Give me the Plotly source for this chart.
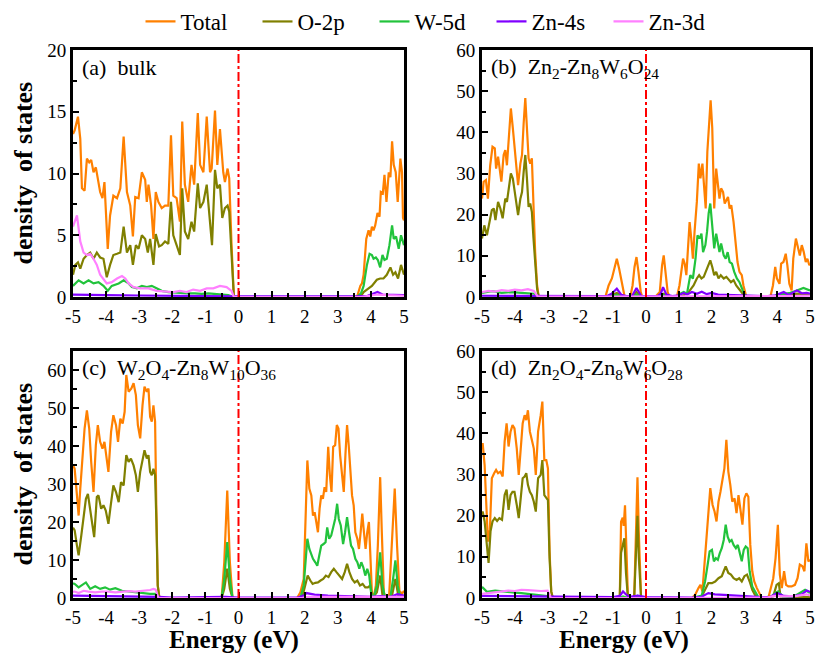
import plotly.graph_objects as go
from plotly.subplots import make_subplots

# ---------------- data: (energy eV, DOS) points ----------------
SERIES = ["Total", "O-2p", "W-5d", "Zn-4s", "Zn-3d"]
COLORS = ["#FF8000", "#808000", "#22C33C", "#8000FF", "#FF80FF"]

X_TICKS = [-5, -4, -3, -2, -1, 0, 1, 2, 3, 4, 5]
X_LABELS = ["-5", "-4", "-3", "-2", "-1", "0", "1", "2", "3", "4", "5"]

PANEL_LABELS = [
    "(a)\u00a0 bulk",
    "(b)\u00a0 Zn<sub>2</sub>-Zn<sub>8</sub>W<sub>6</sub>O<sub>24</sub>",
    "(c)\u00a0 W<sub>2</sub>O<sub>4</sub>-Zn<sub>8</sub>W<sub>10</sub>O<sub>36</sub>",
    "(d)\u00a0 Zn<sub>2</sub>O<sub>4</sub>-Zn<sub>8</sub>W<sub>6</sub>O<sub>28</sub>",
]
Y_MAX = [20, 60, 65, 60]
Y_DTICK = [5, 10, 10, 10]

# ---- panel (a) bulk ----
a_total = [(-5.0,13.2),(-4.95,13.5),(-4.85,14.6),(-4.78,12.8),(-4.73,8.8),(-4.65,8.6),(-4.58,11.2),(-4.51,10.9),(-4.45,11.1),(-4.38,10.1),(-4.31,10.5),(-4.25,9.7),(-4.18,8.5),(-4.11,8.0),(-4.05,9.3),(-3.95,3.9),(-3.88,6.6),(-3.78,8.2),(-3.67,8.0),(-3.57,8.8),(-3.47,13.0),(-3.37,8.5),(-3.27,7.4),(-3.19,4.9),(-3.12,8.1),(-3.02,8.0),(-2.92,10.1),(-2.82,9.5),(-2.77,7.7),(-2.72,9.1),(-2.64,7.4),(-2.57,4.7),(-2.50,8.5),(-2.42,7.7),(-2.32,7.2),(-2.22,7.4),(-2.12,7.4),(-2.04,13.1),(-1.97,8.2),(-1.87,8.0),(-1.77,6.1),(-1.70,14.2),(-1.62,9.1),(-1.52,7.7),(-1.42,10.7),(-1.34,9.1),(-1.23,14.9),(-1.16,10.7),(-1.06,10.1),(-0.96,14.6),(-0.86,10.1),(-0.81,10.4),(-0.71,15.1),(-0.64,10.7),(-0.56,13.6),(-0.46,10.1),(-0.41,9.3),(-0.33,10.4),(-0.28,9.6),(-0.21,4.2),(-0.14,0.0),
           (3.48,0.0),(3.58,0.0),(3.68,0.9),(3.73,1.1),(3.78,1.8),(3.86,4.7),(3.93,5.4),(3.98,4.9),(4.03,5.7),(4.08,5.4),(4.13,5.8),(4.20,6.8),(4.26,6.5),(4.30,8.5),(4.36,8.4),(4.41,9.9),(4.47,7.7),(4.54,10.1),(4.59,9.7),(4.64,12.6),(4.69,10.7),(4.75,10.1),(4.81,7.7),(4.89,11.2),(4.94,10.1),(4.97,6.4),(5.0,6.2)]
a_o2p = [(-5.0,1.8),(-4.93,2.6),(-4.85,2.8),(-4.78,2.3),(-4.68,3.1),(-4.58,3.4),(-4.48,3.6),(-4.38,3.1),(-4.28,3.6),(-4.18,3.2),(-4.08,3.1),(-3.98,1.6),(-3.88,2.6),(-3.78,3.4),(-3.67,3.5),(-3.57,3.6),(-3.47,5.7),(-3.37,3.6),(-3.27,4.2),(-3.19,2.6),(-3.10,4.2),(-3.02,3.9),(-2.92,5.0),(-2.82,4.7),(-2.74,3.6),(-2.67,4.7),(-2.57,2.6),(-2.50,5.1),(-2.40,4.1),(-2.32,4.2),(-2.22,4.5),(-2.12,4.3),(-2.04,7.7),(-1.97,5.0),(-1.87,4.2),(-1.77,3.4),(-1.70,8.8),(-1.62,5.3),(-1.52,4.7),(-1.42,6.1),(-1.34,5.3),(-1.23,9.2),(-1.16,7.2),(-1.06,7.7),(-0.96,9.1),(-0.86,6.4),(-0.80,4.2),(-0.71,10.3),(-0.64,8.8),(-0.56,9.1),(-0.49,6.4),(-0.41,7.2),(-0.33,7.4),(-0.28,6.9),(-0.21,3.6),(-0.14,0.0),
         (3.68,0.0),(3.78,0.4),(3.93,0.7),(4.03,0.9),(4.18,1.4),(4.28,1.5),(4.38,1.5),(4.48,1.8),(4.59,2.4),(4.67,1.8),(4.74,2.0),(4.82,1.5),(4.91,2.6),(5.0,1.8)]
a_w5d = [(-5.0,0.9),(-4.83,1.35),(-4.68,1.1),(-4.53,1.35),(-4.38,1.1),(-4.23,1.2),(-4.08,0.9),(-3.95,0.5),(-3.83,0.9),(-3.62,1.1),(-3.47,1.35),(-3.32,1.1),(-3.22,0.8),(-3.07,0.7),(-2.92,0.9),(-2.77,0.8),(-2.62,0.9),(-2.47,0.7),(-2.32,0.5),(-2.12,0.4),(-1.92,0.35),(-1.71,0.3),(-1.52,0.3),(-1.32,0.3),(-1.11,0.25),(-0.91,0.3),(-0.61,0.2),(-0.31,0.15),(-0.14,0.0),
         (3.58,0.0),(3.70,0.3),(3.78,0.9),(3.88,2.6),(3.96,3.5),(4.03,3.4),(4.08,3.1),(4.15,3.2),(4.21,3.0),(4.28,2.4),(4.35,3.4),(4.41,3.0),(4.48,3.1),(4.56,4.2),(4.64,5.8),(4.69,4.7),(4.76,4.9),(4.84,3.9),(4.91,5.0),(5.0,4.2)]
a_zn4s = [(-5.0,0.2),(-4.5,0.15),(-4.0,0.15),(-3.0,0.12),(-2.0,0.1),(-1.0,0.1),(-0.2,0.1),(0.0,0.05),(3.6,0.05),(3.9,0.1),(4.1,0.3),(4.2,0.4),(4.35,0.2),(4.7,0.2),(5.0,0.15)]
a_zn3d = [(-5.0,5.7),(-4.88,6.6),(-4.78,4.5),(-4.68,3.6),(-4.58,3.4),(-4.48,3.5),(-4.38,3.1),(-4.28,2.6),(-4.18,1.8),(-4.08,1.4),(-3.98,1.1),(-3.83,1.2),(-3.67,1.5),(-3.52,1.7),(-3.42,1.5),(-3.32,1.1),(-3.17,0.8),(-2.97,0.7),(-2.72,0.7),(-2.47,0.5),(-2.22,0.45),(-1.97,0.4),(-1.77,0.5),(-1.57,0.4),(-1.37,0.6),(-1.16,0.5),(-0.96,0.7),(-0.76,0.7),(-0.56,0.9),(-0.36,0.8),(-0.21,0.5),(-0.14,0.0),
          (3.7,0.0),(3.9,0.1),(4.2,0.2),(4.5,0.15),(5.0,0.1)]

# ---- panel (b) Zn2-Zn8W6O24 ----
b_total = [(-5.0,23.9),(-4.95,28.0),(-4.88,28.4),(-4.82,23.9),(-4.75,32.0),(-4.68,36.5),(-4.61,36.1),(-4.57,31.2),(-4.51,34.1),(-4.47,32.0),(-4.41,28.0),(-4.34,34.5),(-4.29,35.7),(-4.24,32.0),(-4.19,36.9),(-4.12,45.8),(-4.06,41.0),(-3.98,33.3),(-3.90,27.2),(-3.83,32.4),(-3.78,34.5),(-3.73,42.2),(-3.68,48.3),(-3.63,41.0),(-3.58,33.7),(-3.53,32.4),(-3.48,33.7),(-3.43,22.3),(-3.38,11.0),(-3.32,2.8),(-3.27,0.0),
           (-1.24,0.0),(-1.14,2.8),(-1.04,4.5),(-0.96,7.3),(-0.89,9.3),(-0.82,6.9),(-0.74,3.6),(-0.65,0.0),(-0.48,0.0),(-0.41,2.8),(-0.35,7.3),(-0.29,9.7),(-0.23,6.1),(-0.16,1.2),(-0.11,0.0),
           (0.28,0.0),(0.42,1.2),(0.49,7.7),(0.54,10.1),(0.60,6.1),(0.66,1.2),(0.72,0.0),(0.94,0.0),(1.02,2.8),(1.07,5.3),(1.13,9.3),(1.18,8.1),(1.23,5.3),(1.28,11.8),(1.33,18.2),(1.38,14.2),(1.43,9.3),(1.48,15.8),(1.55,23.1),(1.61,32.4),(1.66,28.8),(1.72,32.4),(1.77,25.5),(1.82,21.5),(1.87,35.3),(1.92,41.8),(1.97,47.8),(2.02,41.0),(2.08,21.5),(2.14,31.2),(2.19,27.2),(2.24,23.9),(2.29,26.4),(2.35,25.5),(2.40,22.7),(2.45,23.5),(2.50,24.3),(2.55,21.5),(2.60,22.3),(2.67,18.2),(2.73,12.6),(2.79,8.5),(2.85,6.1),(2.92,5.3),(2.97,2.8),(3.06,0.0),
           (3.79,0.0),(3.87,2.8),(3.94,7.3),(3.99,4.5),(4.07,3.2),(4.12,8.1),(4.19,8.5),(4.26,10.5),(4.31,7.7),(4.37,3.2),(4.44,1.6),(4.49,9.3),(4.57,14.2),(4.63,11.8),(4.69,10.1),(4.75,12.6),(4.81,10.9),(4.87,8.5),(4.92,9.3),(4.98,7.7),(5.0,8.0)]
b_o2p = [(-5.0,14.2),(-4.93,17.4),(-4.85,15.0),(-4.78,18.2),(-4.70,21.1),(-4.64,21.5),(-4.59,18.7),(-4.51,23.1),(-4.44,21.5),(-4.37,19.1),(-4.29,23.9),(-4.24,23.1),(-4.19,26.4),(-4.12,30.0),(-4.06,28.8),(-3.98,24.3),(-3.90,19.9),(-3.83,23.9),(-3.78,25.5),(-3.73,30.4),(-3.68,34.5),(-3.63,28.8),(-3.58,21.9),(-3.53,22.7),(-3.48,20.7),(-3.43,14.2),(-3.38,7.7),(-3.32,2.0),(-3.27,0.0),
         (-1.2,0.0),(-0.89,1.0),(-0.7,0.0),(-0.45,0.0),(-0.29,1.2),(-0.12,0.0),(0.35,0.0),(0.54,0.8),(0.7,0.0),
         (0.94,0.0),(1.15,0.4),(1.30,1.2),(1.45,2.8),(1.55,4.5),(1.62,5.3),(1.69,4.5),(1.76,4.9),(1.82,6.1),(1.89,7.7),(1.96,8.9),(2.02,7.3),(2.08,5.3),(2.14,6.1),(2.21,4.5),(2.28,5.3),(2.37,4.5),(2.45,4.9),(2.52,4.1),(2.59,3.6),(2.67,4.1),(2.75,2.8),(2.83,2.0),(2.92,1.2),(3.03,0.0),
         (3.8,0.0),(4.0,0.4),(4.3,0.6),(4.6,0.8),(5.0,0.5)]
b_w5d = [(-5.0,1.0),(-4.7,1.4),(-4.4,1.0),(-4.1,1.2),(-3.8,1.0),(-3.4,0.8),(-3.27,0.0),
         (-1.2,0.0),(-0.89,0.5),(-0.7,0.0),(-0.4,0.0),(-0.29,0.6),(-0.15,0.0),(0.35,0.0),(0.52,0.5),(0.7,0.0),
         (0.94,0.0),(1.05,0.8),(1.15,1.2),(1.25,0.8),(1.35,5.3),(1.43,4.5),(1.51,9.3),(1.57,15.0),(1.63,14.2),(1.69,15.4),(1.74,10.9),(1.81,12.6),(1.86,15.8),(1.91,20.3),(1.96,22.7),(2.02,17.4),(2.08,11.8),(2.14,15.4),(2.19,12.6),(2.24,10.9),(2.29,13.0),(2.37,10.1),(2.43,9.3),(2.49,10.9),(2.55,8.5),(2.62,8.1),(2.69,6.1),(2.77,4.5),(2.85,3.6),(2.92,2.0),(2.99,0.8),(3.08,0.0),
         (3.8,0.0),(4.1,0.6),(4.4,1.0),(4.6,1.6),(4.8,2.2),(5.0,1.6)]
b_zn4s = [(-5.0,0.3),(-4.0,0.3),(-3.3,0.2),(-1.2,0.2),(-1.05,0.8),(-0.89,2.0),(-0.75,0.5),(-0.6,0.2),(-0.42,0.3),(-0.29,2.2),(-0.15,0.3),(0.35,0.2),(0.45,0.8),(0.52,2.4),(0.62,0.6),(0.8,0.2),(1.0,0.4),(1.15,1.0),(1.25,0.6),(1.4,1.2),(1.55,0.8),(1.7,1.3),(1.85,0.7),(2.0,1.0),(2.2,0.6),(2.5,0.5),(2.8,0.5),(3.1,0.3),(3.7,0.2),(3.95,0.4),(4.2,1.2),(4.35,0.5),(4.6,1.6),(4.75,0.9),(4.9,1.0),(5.0,0.8)]
b_zn3d = [(-5.0,1.2),(-4.8,1.5),(-4.6,1.3),(-4.4,1.7),(-4.2,1.5),(-4.0,1.8),(-3.8,1.6),(-3.6,1.9),(-3.42,1.5),(-3.3,0.1),(-1.0,0.1),(0.0,0.1),(2.0,0.2),(3.0,0.1),(4.0,0.2),(5.0,0.3)]

# ---- panel (c) W2O4-Zn8W10O36 ----
c_total = [(-5.0,35.0),(-4.95,34.0),(-4.88,27.0),(-4.83,21.7),(-4.78,28.8),(-4.71,37.6),(-4.65,44.6),(-4.58,49.4),(-4.51,44.6),(-4.45,35.8),(-4.38,27.9),(-4.31,40.2),(-4.25,45.5),(-4.18,41.1),(-4.11,39.3),(-4.05,41.1),(-3.98,35.8),(-3.93,33.2),(-3.85,43.7),(-3.78,48.1),(-3.70,45.5),(-3.64,41.1),(-3.57,47.2),(-3.50,45.9),(-3.44,49.0),(-3.39,58.7),(-3.32,54.3),(-3.24,55.1),(-3.17,56.5),(-3.10,53.4),(-3.04,45.5),(-2.97,42.0),(-2.90,50.7),(-2.84,55.6),(-2.77,54.3),(-2.72,55.1),(-2.67,47.7),(-2.62,46.4),(-2.57,50.7),(-2.52,46.4),(-2.48,22.6),(-2.44,3.3),(-2.39,0.0),
           (-0.51,0.0),(-0.43,9.4),(-0.34,28.3),(-0.26,9.4),(-0.18,0.0),
           (1.77,0.0),(1.87,1.5),(1.97,5.0),(2.02,22.6),(2.08,36.2),(2.14,28.8),(2.20,27.0),(2.25,21.7),(2.30,22.6),(2.35,20.0),(2.40,17.3),(2.45,23.5),(2.50,27.0),(2.55,26.1),(2.60,29.2),(2.65,27.9),(2.71,39.8),(2.76,32.3),(2.81,27.9),(2.86,39.8),(2.92,40.2),(2.97,45.5),(3.02,44.6),(3.07,37.6),(3.13,31.4),(3.18,27.9),(3.23,37.6),(3.28,45.5),(3.33,40.2),(3.38,32.3),(3.43,27.0),(3.48,24.4),(3.53,17.3),(3.59,15.6),(3.64,12.9),(3.69,17.3),(3.74,22.2),(3.79,17.3),(3.84,12.9),(3.89,17.3),(3.94,20.0),(3.98,12.0),(4.03,1.5),(4.08,0.0),
           (4.15,3.3),(4.21,13.8),(4.28,31.8),(4.33,17.3),(4.39,1.5),(4.45,0.0),(4.55,0.5),(4.63,13.8),(4.72,28.8),(4.79,13.8),(4.86,1.9),(4.94,1.1),(5.0,1.9)]
c_o2p = [(-5.0,18.5),(-4.95,17.8),(-4.88,13.8),(-4.83,11.2),(-4.75,16.4),(-4.68,21.7),(-4.61,26.1),(-4.55,27.4),(-4.48,23.5),(-4.41,18.6),(-4.36,16.0),(-4.28,26.6),(-4.23,27.0),(-4.15,23.5),(-4.08,24.4),(-4.01,23.0),(-3.93,19.5),(-3.86,24.4),(-3.78,29.6),(-3.70,27.9),(-3.62,25.2),(-3.55,30.5),(-3.47,29.6),(-3.39,37.6),(-3.32,35.8),(-3.25,36.7),(-3.17,34.9),(-3.10,32.3),(-3.04,27.9),(-2.97,33.2),(-2.90,36.7),(-2.84,38.9),(-2.77,36.7),(-2.72,37.6),(-2.67,33.2),(-2.62,32.3),(-2.57,34.0),(-2.52,32.3),(-2.48,20.0),(-2.44,3.3),(-2.39,0.0),
         (-0.51,0.0),(-0.43,2.4),(-0.34,7.7),(-0.26,2.4),(-0.18,0.0),
         (1.92,0.0),(2.02,3.3),(2.09,5.9),(2.17,4.6),(2.24,3.7),(2.32,4.0),(2.40,4.1),(2.48,4.6),(2.56,5.0),(2.64,5.9),(2.72,5.5),(2.80,6.8),(2.88,7.7),(2.96,6.8),(3.04,5.9),(3.13,5.0),(3.21,6.8),(3.28,9.0),(3.35,6.8),(3.43,5.0),(3.51,4.1),(3.59,4.6),(3.67,3.3),(3.75,3.7),(3.83,2.8),(3.91,2.8),(3.98,3.3),(4.05,0.0),
         (4.18,1.5),(4.28,5.9),(4.36,0.0),(4.63,0.3),(4.74,5.0),(4.84,0.0),(5.0,0.6)]
c_w5d = [(-5.0,3.9),(-4.95,3.7),(-4.83,2.8),(-4.73,3.4),(-4.61,4.1),(-4.48,2.4),(-4.33,3.1),(-4.18,2.4),(-4.03,2.8),(-3.88,2.2),(-3.72,2.6),(-3.52,1.9),(-3.32,1.7),(-3.12,1.5),(-2.92,1.3),(-2.67,1.1),(-2.52,1.1),(-2.44,0.0),
         (-0.51,0.0),(-0.43,5.0),(-0.34,14.7),(-0.26,5.0),(-0.18,0.0),
         (1.87,0.0),(1.97,3.3),(2.02,10.3),(2.08,15.6),(2.14,12.9),(2.20,11.6),(2.25,10.3),(2.32,9.4),(2.38,8.5),(2.44,11.2),(2.50,13.8),(2.57,14.2),(2.63,14.7),(2.68,18.6),(2.74,15.6),(2.80,16.4),(2.86,18.6),(2.92,20.8),(2.98,24.8),(3.03,20.8),(3.09,19.1),(3.16,14.2),(3.22,17.3),(3.28,21.3),(3.34,17.3),(3.40,13.8),(3.46,12.9),(3.53,10.3),(3.59,9.4),(3.65,7.7),(3.71,9.4),(3.77,8.1),(3.83,5.9),(3.89,7.7),(3.95,5.9),(4.01,1.1),(4.08,0.0),
         (4.18,3.3),(4.28,12.0),(4.35,3.3),(4.43,0.0),(4.59,0.3),(4.67,5.0),(4.74,9.9),(4.81,3.3),(4.89,0.0),(5.0,0.6)]
c_zn4s = [(-5.0,0.6),(-4.0,0.5),(-3.0,0.5),(-2.4,0.3),(-2.0,0.1),(-0.4,0.3),(0.0,0.1),(1.8,0.1),(2.0,0.8),(2.05,1.3),(2.3,0.9),(2.7,0.6),(3.2,0.5),(3.6,0.4),(4.0,0.3),(4.3,0.5),(4.6,0.3),(4.8,1.0),(5.0,0.6)]
c_zn3d = [(-5.0,1.6),(-4.95,1.7),(-4.83,1.3),(-4.68,1.9),(-4.53,1.7),(-4.33,1.5),(-4.13,1.7),(-3.93,1.7),(-3.72,1.5),(-3.52,1.7),(-3.32,1.8),(-3.12,1.7),(-2.92,1.9),(-2.67,2.1),(-2.57,2.4),(-2.50,2.2),(-2.42,0.0),
          (1.9,0.0),(2.1,0.3),(3.0,0.3),(4.0,0.2),(5.0,0.3)]

# ---- panel (d) Zn2O4-Zn8W6O28 ----
d_total = [(-5.0,36.5),(-4.98,37.6),(-4.92,32.3),(-4.87,22.6),(-4.82,13.7),(-4.76,16.6),(-4.70,29.1),(-4.63,30.3),(-4.57,31.1),(-4.51,30.3),(-4.44,30.7),(-4.37,29.5),(-4.31,38.0),(-4.25,42.4),(-4.19,36.8),(-4.13,40.4),(-4.07,42.0),(-4.01,41.2),(-3.94,36.3),(-3.88,29.9),(-3.82,37.2),(-3.76,42.4),(-3.70,44.4),(-3.65,43.2),(-3.60,45.6),(-3.54,40.4),(-3.48,38.4),(-3.42,36.3),(-3.36,29.9),(-3.29,40.4),(-3.21,44.4),(-3.16,47.7),(-3.10,33.5),(-3.04,33.5),(-2.99,31.5),(-2.94,11.3),(-2.89,1.6),(-2.84,0.0),
           (-0.80,0.0),(-0.76,18.5),(-0.71,19.5),(-0.68,17.5),(-0.64,22.5),(-0.60,12.0),(-0.55,0.0),(-0.36,0.0),(-0.30,18.0),(-0.26,29.3),(-0.22,16.0),(-0.15,0.0),
           (1.40,0.0),(1.50,0.8),(1.60,2.4),(1.66,3.2),(1.72,1.6),(1.78,8.1),(1.84,13.7),(1.90,19.4),(1.96,26.7),(2.03,22.6),(2.09,21.0),(2.15,18.6),(2.21,23.4),(2.27,25.8),(2.33,29.1),(2.39,31.5),(2.45,38.4),(2.51,30.7),(2.57,27.5),(2.63,23.4),(2.70,24.2),(2.76,20.6),(2.82,25.0),(2.88,21.0),(2.94,17.8),(3.00,24.2),(3.06,25.4),(3.12,24.6),(3.18,12.9),(3.24,6.5),(3.30,4.0),(3.38,2.4),(3.45,1.2),(3.53,0.0),
           (3.73,0.0),(3.81,2.4),(3.88,4.8),(3.95,9.7),(4.02,17.8),(4.08,5.7),(4.14,2.4),(4.21,6.5),(4.27,3.2),(4.34,2.8),(4.44,2.8),(4.54,3.2),(4.62,4.8),(4.69,8.1),(4.77,7.7),(4.83,6.5),(4.89,13.3),(4.95,8.9),(5.0,9.3)]
d_o2p = [(-5.0,20.5),(-4.98,21.0),(-4.92,18.6),(-4.86,12.9),(-4.80,8.5),(-4.74,16.2),(-4.68,18.6),(-4.61,19.4),(-4.54,18.7),(-4.47,19.4),(-4.39,19.0),(-4.31,25.0),(-4.25,26.3),(-4.19,21.4),(-4.13,25.0),(-4.07,25.8),(-4.01,25.8),(-3.94,22.6),(-3.88,19.4),(-3.82,24.2),(-3.76,29.1),(-3.70,29.5),(-3.65,30.3),(-3.60,27.5),(-3.54,25.8),(-3.48,25.0),(-3.42,23.4),(-3.36,21.0),(-3.29,29.1),(-3.21,29.9),(-3.16,33.5),(-3.10,25.0),(-3.04,24.2),(-2.99,23.8),(-2.94,9.7),(-2.89,1.6),(-2.84,0.0),
         (-0.80,0.0),(-0.76,11.0),(-0.71,12.5),(-0.66,14.5),(-0.61,6.0),(-0.55,0.0),(-0.36,0.0),(-0.30,12.0),(-0.26,20.0),(-0.22,10.0),(-0.15,0.0),
         (1.60,0.0),(1.70,0.4),(1.80,2.0),(1.90,3.6),(2.01,3.6),(2.11,4.0),(2.21,4.8),(2.31,5.3),(2.37,6.5),(2.43,7.7),(2.51,6.1),(2.59,5.7),(2.67,4.8),(2.76,4.4),(2.84,4.8),(2.92,4.0),(3.00,5.3),(3.08,5.7),(3.16,4.0),(3.24,2.0),(3.32,0.8),(3.43,0.0),
         (3.88,0.4),(3.98,3.2),(4.05,3.6),(4.10,0.4),(5.0,0.2)]
d_w5d = [(-5.0,2.7),(-4.85,1.5),(-4.6,1.8),(-4.4,1.6),(-4.2,1.5),(-4.0,1.3),(-3.8,1.2),(-3.6,1.0),(-3.4,0.9),(-3.1,0.6),(-2.95,0.4),(-2.85,0.0),
         (-0.8,0.0),(-0.7,0.4),(-0.55,0.0),(-0.3,0.0),(-0.26,0.5),(-0.15,0.0),
         (1.40,0.0),(1.70,0.6),(1.80,4.0),(1.88,8.1),(1.94,11.3),(2.01,11.7),(2.07,8.9),(2.13,9.7),(2.19,9.3),(2.25,10.9),(2.31,12.1),(2.37,14.1),(2.43,17.8),(2.49,14.9),(2.55,13.7),(2.61,14.1),(2.67,12.9),(2.74,12.1),(2.80,12.9),(2.86,10.9),(2.92,8.9),(2.98,11.7),(3.04,12.5),(3.10,12.1),(3.16,6.5),(3.24,2.8),(3.32,1.6),(3.41,0.4),(3.48,0.0),
         (3.8,0.2),(3.93,1.2),(4.03,1.6),(4.18,0.3),(4.5,0.3),(4.85,2.0),(5.0,1.2)]
d_zn4s = [(-5.0,0.5),(-4.0,0.4),(-3.0,0.3),(-2.8,0.2),(-1.0,0.2),(-0.8,0.5),(-0.7,1.6),(-0.6,0.8),(-0.5,0.3),(-0.25,0.6),(0.0,0.2),(1.4,0.1),(1.7,0.3),(1.9,1.2),(2.1,0.9),(2.5,0.7),(3.0,0.5),(3.5,0.2),(3.8,0.3),(4.0,1.2),(4.2,0.5),(4.5,0.4),(4.75,0.9),(4.9,1.8),(5.0,1.5)]
d_zn3d = [(-5.0,1.0),(-4.8,1.2),(-4.6,1.5),(-4.4,1.6),(-4.2,1.8),(-4.0,1.7),(-3.8,2.0),(-3.6,1.9),(-3.4,1.8),(-3.2,1.7),(-3.0,1.8),(-2.9,0.0),(0.0,0.0),(3.7,0.1),(3.9,0.5),(4.2,0.4),(4.6,0.5),(4.9,0.9),(5.0,0.6)]

PANELS = [
    [a_total, a_o2p, a_w5d, a_zn4s, a_zn3d],
    [b_total, b_o2p, b_w5d, b_zn4s, b_zn3d],
    [c_total, c_o2p, c_w5d, c_zn4s, c_zn3d],
    [d_total, d_o2p, d_w5d, d_zn4s, d_zn3d],
]

# ---------------- figure ----------------
W, H = 816, 654
FONT = "Liberation Serif"

# plot-area boxes in pixels (left, right, top, bottom)
BOXES = [(73, 404, 50, 297), (482, 810, 50, 297), (73, 404, 351, 598), (482, 810, 351, 598)]

fig = make_subplots(rows=2, cols=2)
cells = [(1, 1), (1, 2), (2, 1), (2, 2)]

for p, (series_list, (r, c)) in enumerate(zip(PANELS, cells)):
    for s, pts in enumerate(series_list):
        xs, ys = zip(*pts)
        fig.add_trace(go.Scatter(
            x=list(xs), y=list(ys), mode="lines", name=SERIES[s],
            line=dict(color=COLORS[s], width=2.2),
            showlegend=(p == 0), legendgroup=SERIES[s],
        ), row=r, col=c)

axis_common = dict(
    showline=True, linewidth=3, linecolor="black", mirror=True,
    showgrid=False, zeroline=False,
    ticks="inside", ticklen=6, tickwidth=2, tickcolor="black",
    tickfont=dict(family=FONT, size=19, color="black"),
)

for p, (l, rgt, t, b) in enumerate(BOXES):
    xname = "xaxis" if p == 0 else f"xaxis{p + 1}"
    yname = "yaxis" if p == 0 else f"yaxis{p + 1}"
    fig.layout[xname].update(
        domain=[l / W, rgt / W], range=[-5, 5],
        tickmode="array", tickvals=X_TICKS, ticktext=X_LABELS,
        minor=dict(ticks="inside", dtick=0.5, tick0=-5, ticklen=4, tickwidth=2, tickcolor="black"),
        **axis_common)
    fig.layout[yname].update(
        domain=[1 - b / H, 1 - t / H], range=[0, Y_MAX[p]],
        dtick=Y_DTICK[p], tick0=0,
        minor=dict(ticks="inside", dtick=Y_DTICK[p] / 2, tick0=0, ticklen=4, tickwidth=2, tickcolor="black"),
        **axis_common)
    xref = "x" if p == 0 else f"x{p + 1}"
    yref = "y" if p == 0 else f"y{p + 1}"
    # Fermi level
    fig.add_shape(type="line", xref=xref, yref=f"{yref} domain", x0=0, x1=0, y0=0, y1=1,
                  line=dict(color="red", width=2, dash="dashdot"), layer="above")
    # panel label
    fig.add_annotation(text=PANEL_LABELS[p], xref="paper", yref="paper",
                       x=(l + 7) / W, y=1 - (t + 18) / H, xanchor="left", yanchor="middle",
                       showarrow=False, font=dict(family=FONT, size=22, color="black"))

# axis titles
for ycen in [(50 + 297) / 2, (351 + 598) / 2]:
    fig.add_annotation(text="<b>density\u00a0 of states</b>", xref="paper", yref="paper",
                       x=23 / W, y=1 - ycen / H, textangle=-90, showarrow=False,
                       xanchor="center", yanchor="middle",
                       font=dict(family=FONT, size=26, color="black"))
for xcen in [234, 624]:
    fig.add_annotation(text="<b>Energy (eV)</b>", xref="paper", yref="paper",
                       x=xcen / W, y=1 - 640 / H, showarrow=False,
                       xanchor="center", yanchor="middle",
                       font=dict(family=FONT, size=25, color="black"))

fig.update_layout(
    width=W, height=H,
    margin=dict(l=0, r=0, t=0, b=0, autoexpand=False),
    paper_bgcolor="white", plot_bgcolor="white",
    showlegend=True,
    legend=dict(orientation="h", x=433 / W, xanchor="center", y=1.0, yanchor="top",
                font=dict(family=FONT, size=23, color="black"),
                bgcolor="rgba(0,0,0,0)", borderwidth=0, tracegroupgap=0,
                entrywidth=72, entrywidthmode="pixels",
                itemwidth=30, traceorder="normal"),
)

fig.write_html("out.html")
